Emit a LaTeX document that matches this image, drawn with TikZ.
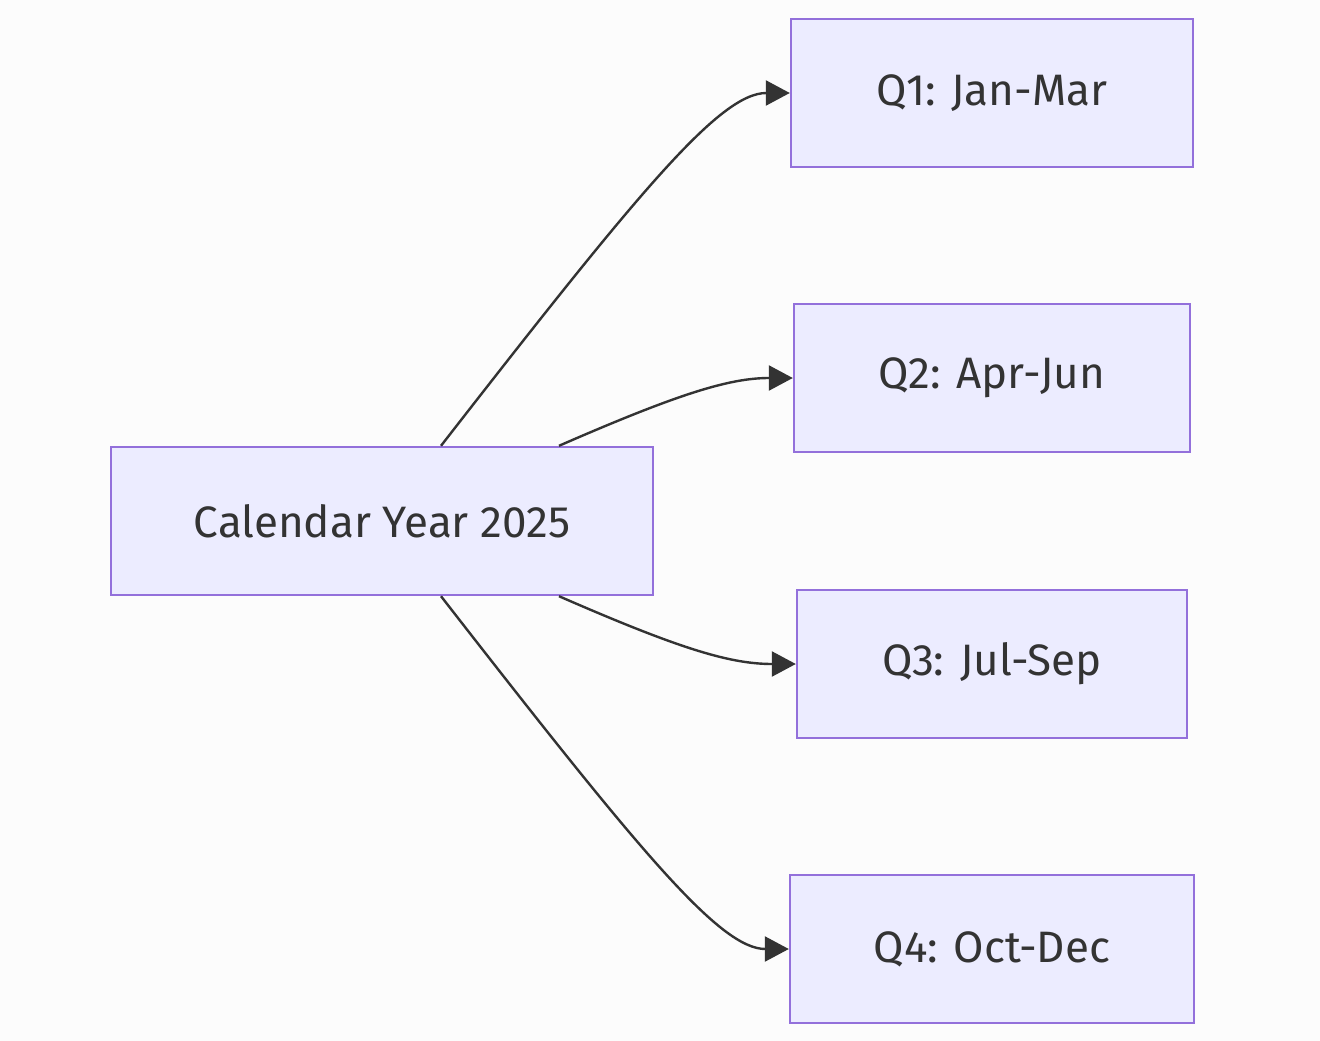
\documentclass[tikz,border=0pt]{standalone}
\usepackage{fontspec}
\setmainfont{Fira Sans}
\usetikzlibrary{arrows.meta}
\definecolor{bg}{HTML}{FCFCFC}
\definecolor{boxfill}{HTML}{ECECFF}
\definecolor{boxdraw}{HTML}{9370DB}
\definecolor{txt}{HTML}{333333}
\begin{document}
\begin{tikzpicture}[x=1pt,y=-1pt,
  box/.style={draw=boxdraw,fill=boxfill,line width=2.4pt,text=txt,inner sep=0pt,
    font=\fontsize{44}{52}\selectfont},
  edge/.style={draw=txt,line width=2.4pt,-{Triangle[length=24pt,width=25pt]}}]
\fill[bg] (0,0) rectangle (1320,1041);
\useasboundingbox (0,0) rectangle (1320,1041);
\node[box,minimum width=542pt,minimum height=148pt] (cal) at (382,521) {Calendar Year 2025};
\node[box,minimum width=402pt,minimum height=148pt] (q1) at (992,93) {Q1: Jan-Mar};
\node[box,minimum width=396pt,minimum height=148pt] (q2) at (992,378) {Q2: Apr-Jun};
\node[box,minimum width=390pt,minimum height=148pt] (q3) at (992,664) {Q3: Jul-Sep};
\node[box,minimum width=404pt,minimum height=148pt] (q4) at (992,949) {Q4: Oct-Dec};
\coordinate (s1) at ([xshift=59pt]cal.north);
\coordinate (s2) at ([xshift=177pt]cal.north);
\coordinate (s3) at ([xshift=177pt]cal.south);
\coordinate (s4) at ([xshift=59pt]cal.south);
\draw[edge] (s1) .. controls (640,190) and (720,93) .. (q1.west);
\draw[edge] (s2) .. controls (680,393) and (730,378) .. (q2.west);
\draw[edge] (s3) .. controls (680,649) and (730,664) .. (q3.west);
\draw[edge] (s4) .. controls (640,852) and (720,949) .. (q4.west);
\end{tikzpicture}
\end{document}
